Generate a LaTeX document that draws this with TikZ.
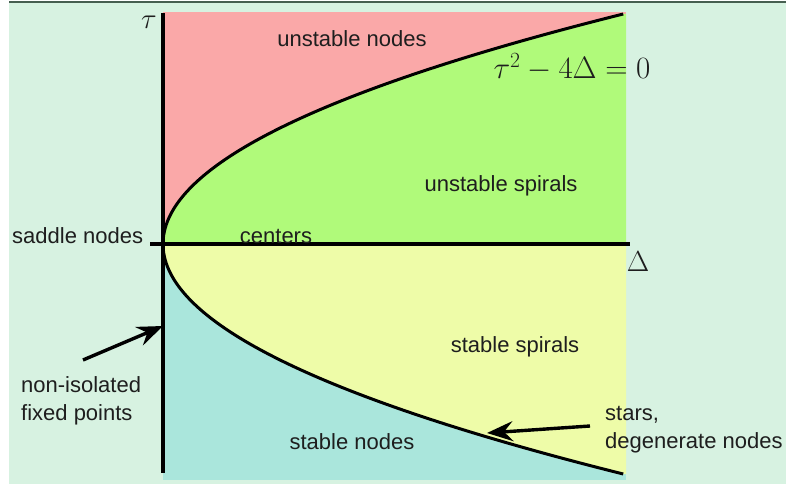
\RequirePackage{fix-cm}
\documentclass[tikz,border=0pt]{standalone}
\usepackage[no-math]{fontspec}
\setmainfont{Liberation Sans}
\usetikzlibrary{arrows.meta}
\definecolor{bgc}{RGB}{215,242,225}
\definecolor{topl}{RGB}{70,95,80}
\definecolor{pinkr}{RGB}{250,168,168}
\definecolor{greenr}{RGB}{176,250,122}
\definecolor{yellowr}{RGB}{238,252,168}
\definecolor{tealr}{RGB}{170,230,220}
\definecolor{txt}{RGB}{30,30,30}
\begin{document}
\begin{tikzpicture}[x=1pt,y=-1pt,
  lbl/.style={font=\fontsize{22}{26}\selectfont, text=txt, inner sep=0pt},
  mlbl/.style={font=\fontsize{29}{34}\selectfont, text=txt, inner sep=0pt},
  axisline/.style={line width=3.6pt, black},
  curveline/.style={line width=3pt, black},
  pointer/.style={line width=3.4pt, black, -{Stealth[length=26pt,width=20pt,inset=9pt]}}]
\useasboundingbox (0,0) rectangle (786,489);
\fill[white] (0,0) rectangle (786,489);
\fill[bgc] (9,3) rectangle (786,484);
\draw[topl, line width=1.5pt] (9,2) -- (786,2);
% regions
\fill[pinkr] (163,12) rectangle (626,244);
\fill[greenr] plot[domain=0:2.3, samples=80] ({163+87*\x*\x},{244-100*\x}) -- (626,14) -- (626,244) -- cycle;
\fill[tealr] (163,244) rectangle (626,480);
\fill[yellowr] plot[domain=0:2.3, samples=80] ({163+87*\x*\x},{244+100*\x}) -- (626,474) -- (626,244) -- cycle;
% curve and axes
\draw[curveline] plot[domain=-2.3:2.3, samples=160] ({163+87*\x*\x},{244+100*\x});
\coordinate (ttop) at (163,13);
\coordinate (tbot) at (163,473);
\coordinate (dleft) at (150,244);
\coordinate (dright) at (630,244);
\draw[axisline] (ttop) -- (tbot);
\draw[axisline] (dleft) -- (dright);
% labels
\node[mlbl] (tau) at (149,22) {$\tau$};
\node[mlbl] (delta) at (638,262) {$\Delta$};
\node[font=\fontsize{31}{36}\selectfont, text=txt, inner sep=0pt, anchor=base] (eq) at (572,79) {$\tau^2-4\Delta=0$};
\node[lbl, anchor=base] (un) at (352,47) {unstable nodes};
\node[lbl, anchor=base] (us) at (501,191) {unstable spirals};
\node[lbl, anchor=base west] (sad) at (12,243) {saddle nodes};
\node[lbl, anchor=base] (cen) at (276,243) {centers};
\node[lbl, anchor=base] (ss) at (515,352) {stable spirals};
\node[lbl, anchor=base] (sn) at (352,449) {stable nodes};
\node[lbl, anchor=base west] (ni1) at (21,392) {non-isolated};
\node[lbl, anchor=base west] (ni2) at (21,420) {fixed points};
\node[lbl, anchor=base west] (st1) at (605,420) {stars,};
\node[lbl, anchor=base west] (st2) at (605,448) {degenerate nodes};
% pointers
\coordinate (nitail) at (83,360);
\coordinate (nihead) at (163,326);
\coordinate (sttail) at (590,426);
\coordinate (sthead) at (487,433);
\draw[pointer] (nitail) -- (nihead);
\draw[pointer] (sttail) -- (sthead);
\end{tikzpicture}
\end{document}
